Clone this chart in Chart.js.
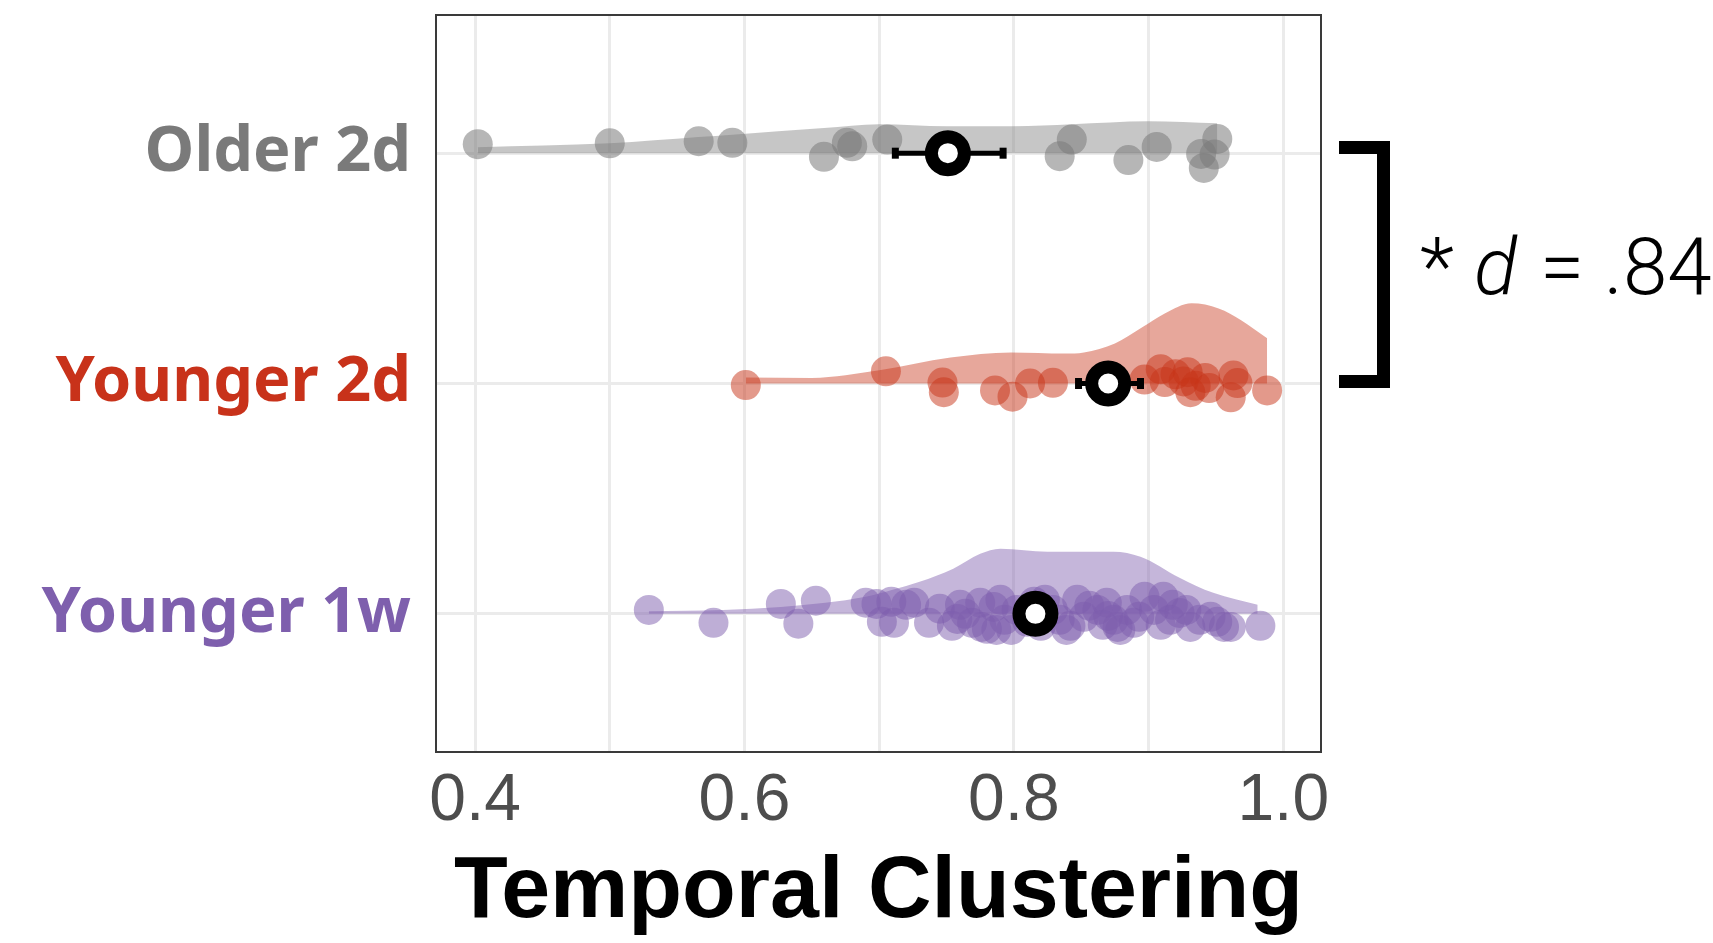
<!DOCTYPE html>
<html><head><meta charset="utf-8">
<script src="https://cdn.jsdelivr.net/npm/chart.js@4/dist/chart.umd.min.js"></script>
<style>html,body{margin:0;padding:0;background:#fff}#wrap{width:1713px;height:943px;position:relative}</style>
</head><body><div id="wrap"><canvas id="c"></canvas></div>
<script>
// ---- categories ----
const groupLabels = ['Younger 1w', 'Younger 2d', 'Older 2d'];
const groupRows = [1, 2, 3];

// ---- x axis ticks ----
const xGridValues = [0.4, 0.5, 0.6, 0.7, 0.8, 0.9, 1.0];
const xLabelValues = [0.4, 0.6, 0.8, 1.0];
const xTitle = 'Temporal Clustering';

// ---- individual scores (x) and vertical jitter (category units) ----
const olderValues = [0.402,0.500,0.566,0.591,0.659,0.676,0.680,0.706,0.834,0.843,0.885,0.906,0.939,0.941,0.949,0.951];
const olderJitter = [0.039,0.043,0.052,0.045,-0.016,0.045,0.030,0.059,-0.013,0.059,-0.030,0.027,-0.003,-0.064,-0.006,0.062];

const younger2dValues = [0.601,0.705,0.747,0.748,0.786,0.799,0.812,0.829,0.897,0.909,0.912,0.920,0.926,0.929,0.931,0.935,0.942,0.945,0.961,0.963,0.966,0.988];
const younger2dJitter = [-0.007,0.053,0.004,-0.038,-0.030,-0.057,0.000,0.003,0.017,0.062,0.006,0.040,0.009,0.049,-0.038,-0.010,0.024,-0.020,-0.060,0.035,0.002,-0.030];

const younger1wValues = [0.529,0.577,0.627,0.640,0.653,0.690,0.698,0.702,0.709,0.711,0.720,0.726,0.737,0.745,0.754,0.758,
  0.760,0.764,0.769,0.775,0.776,0.780,0.785,0.787,0.790,0.793,0.798,0.802,0.810,0.815,0.820,0.823,
  0.829,0.834,0.839,0.842,0.847,0.852,0.856,0.862,0.866,0.869,0.870,0.874,0.877,0.879,0.884,0.889,
  0.893,0.897,0.904,0.909,0.911,0.916,0.918,0.923,0.928,0.931,0.938,0.946,0.951,0.956,0.961,0.983];
const younger1wJitter = [0.017,-0.039,0.043,-0.043,0.057,0.048,0.043,-0.035,0.052,-0.039,0.039,0.048,-0.039,0.022,-0.052,-0.022,
  0.039,0.000,-0.039,0.048,-0.057,-0.065,0.030,-0.070,0.061,-0.026,-0.070,0.017,-0.035,0.052,-0.052,0.061,
  0.017,-0.026,-0.070,-0.052,0.061,-0.013,0.035,0.017,-0.048,0.048,-0.009,-0.026,-0.057,-0.070,0.017,-0.039,
  -0.013,0.074,0.017,-0.048,0.074,-0.026,0.039,0.004,0.017,-0.057,-0.026,-0.013,-0.035,-0.057,-0.057,-0.052];

// ---- half-violin outlines (x, height in category units) ----
const olderViolinX = [0.402,0.50,0.566,0.591,0.659,0.70,0.75,0.80,0.843,0.90,0.951];
const olderViolinH = [0.026,0.043,0.070,0.080,0.109,0.126,0.117,0.117,0.126,0.139,0.130];
const younger2dViolinX = [0.601,0.65,0.70,0.753,0.798,0.838,0.852,0.875,0.895,0.912,0.932,0.952,0.969,0.988];
const younger2dViolinH = [0.026,0.024,0.057,0.113,0.135,0.130,0.135,0.174,0.243,0.304,0.348,0.326,0.274,0.196];
const younger1wViolinX = [0.529,0.584,0.627,0.66,0.69,0.71,0.73,0.755,0.775,0.79,0.825,0.874,0.894,0.923,0.948,0.981];
const younger1wViolinH = [0.011,0.017,0.030,0.048,0.074,0.104,0.139,0.196,0.261,0.283,0.270,0.270,0.248,0.157,0.091,0.039];

// ---- group means and error bars (rows 1,2,3) ----
const meanValues = [0.816, 0.870, 0.751];
const errLow = [0.808, 0.848, 0.712];
const errHigh = [0.824, 0.894, 0.792];

// ---- annotation ----
const statStar = '*';
const statD = 'd';
const statRest = '= .84';

// ---- styles ----
const labelColors = ['#7e5fad', '#c8321a', '#7a7a7a'];
const pointColors = ['rgba(126,94,173,0.5)', 'rgba(200,51,24,0.5)', 'rgba(122,122,122,0.55)'];
const violinColors = ['rgba(126,94,173,0.45)', 'rgba(200,51,24,0.43)', 'rgba(122,122,122,0.43)'];

const groups = [
  {vals: younger1wValues, jit: younger1wJitter, vx: younger1wViolinX, vh: younger1wViolinH},
  {vals: younger2dValues, jit: younger2dJitter, vx: younger2dViolinX, vh: younger2dViolinH},
  {vals: olderValues, jit: olderJitter, vx: olderViolinX, vh: olderViolinH}
];

const datasets = [];
groups.forEach((g, gi) => {
  const row = groupRows[gi];
  datasets.push({
    type: 'line', order: 4,
    data: g.vx.map((x, i) => ({x: x, y: row + g.vh[i]})),
    fill: {value: row}, backgroundColor: violinColors[gi],
    borderWidth: 0, borderColor: 'rgba(0,0,0,0)', pointRadius: 0,
    cubicInterpolationMode: 'monotone'
  });
  datasets.push({
    type: 'scatter', order: 3,
    data: g.vals.map((v, i) => ({x: v, y: row + g.jit[i]})),
    backgroundColor: pointColors[gi], borderWidth: 0, pointRadius: 15
  });
  datasets.push({
    type: 'line', order: 2,
    data: [{x: errLow[gi], y: row}, {x: errHigh[gi], y: row}],
    borderColor: '#000', borderWidth: 5, pointRadius: 0, fill: false
  });
  datasets.push({
    type: 'scatter', order: 2,
    data: [{x: errLow[gi], y: row}, {x: errHigh[gi], y: row}],
    pointStyle: 'line', rotation: 90, pointRadius: 5.5, borderWidth: 7, borderColor: '#000'
  });
  datasets.push({
    type: 'scatter', order: 1,
    data: [{x: meanValues[gi], y: row}],
    pointRadius: 16.5, borderWidth: 13, borderColor: '#000', backgroundColor: '#fff'
  });
});

const annotPlugin = {
  id: 'annot',
  afterDatasetsDraw(chart) {
    const {ctx, chartArea: a} = chart;
    ctx.save();
    ctx.strokeStyle = '#3a3a3a';
    ctx.lineWidth = 2;
    ctx.strokeRect(a.left, a.top, a.right - a.left, a.bottom - a.top);
    ctx.restore();
  },
  afterDraw(chart) {
    const {ctx} = chart;
    ctx.save();
    ctx.fillStyle = '#000';
    // bracket
    ctx.fillRect(1339, 141, 51, 13);
    ctx.fillRect(1339, 375, 51, 13);
    ctx.fillRect(1377, 141, 13, 247);
    // text
    ctx.textBaseline = 'alphabetic';
    ctx.textAlign = 'left';
    ctx.font = '300 80px Roboto, "Open Sans", sans-serif';
    ctx.fillText(statStar, 1420, 294);
    ctx.font = 'italic 300 80px Roboto, "Open Sans", sans-serif';
    ctx.fillText(statD, 1474, 294);
    ctx.font = '300 80px Roboto, "Open Sans", sans-serif';
    ctx.fillText(statRest, 1540, 294);
    ctx.restore();
  }
};

new Chart(document.getElementById('c'), {
  type: 'scatter',
  data: {datasets: datasets},
  plugins: [annotPlugin],
  options: {
    responsive: true, maintainAspectRatio: false, animation: false, events: [],
    layout: {autoPadding: false, padding: {top: 15, right: 392, bottom: 0, left: 0}},
    plugins: {legend: {display: false}, tooltip: {enabled: false}},
    scales: {
      x: {
        type: 'linear', min: 0.371, max: 1.028,
        afterBuildTicks: s => { s.ticks = xGridValues.map(v => ({value: v})); },
        afterFit: s => { s.height = 191; s.paddingLeft = 0; s.paddingRight = 0; },
        grid: {color: '#ebebeb', lineWidth: 3, drawTicks: false},
        border: {display: false},
        ticks: {
          autoSkip: false, maxRotation: 0, padding: 10, color: '#4d4d4d',
          font: {family: '"Liberation Sans", Arial, sans-serif', size: 66},
          callback: v => xLabelValues.some(l => Math.abs(l - v) < 1e-6) ? v.toFixed(1) : ''
        },
        title: {
          display: true, text: xTitle, color: '#000',
          font: {family: '"Liberation Sans", Arial, sans-serif', size: 88, weight: 'bold'},
          padding: {top: 0, bottom: -3}
        }
      },
      y: {
        type: 'linear', min: 0.4, max: 3.6,
        afterBuildTicks: s => { s.ticks = groupRows.map(v => ({value: v})); },
        afterFit: s => { s.width = 436; s.paddingTop = 0; s.paddingBottom = 0; },
        grid: {color: '#ebebeb', lineWidth: 3, drawTicks: false},
        border: {display: false},
        ticks: {
          autoSkip: false, padding: 25,
          color: c => labelColors[c.index],
          font: {family: '"Noto Sans", sans-serif', size: 63, weight: 'bold'},
          callback: v => groupLabels[groupRows.indexOf(v)]
        }
      }
    }
  }
});
</script>
</body></html>
